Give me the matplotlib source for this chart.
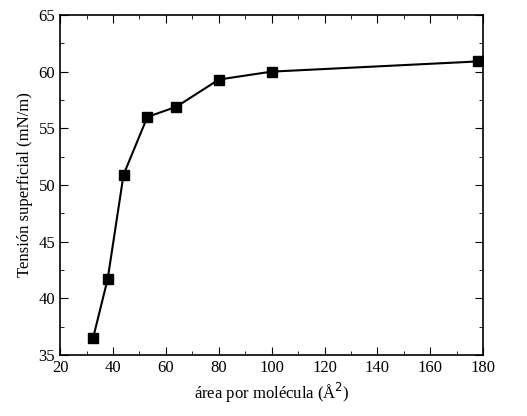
import matplotlib.pyplot as plt
from matplotlib.ticker import MultipleLocator

area = [32.5, 38, 44, 53, 64, 80, 100, 178]
tension = [36.5, 41.7, 50.9, 56.0, 56.9, 59.3, 60.0, 60.9]

plt.rcParams["font.family"] = ["Liberation Serif", "DejaVu Serif"]
fig = plt.figure(figsize=(5.27, 4.16), dpi=100)
ax = fig.add_axes([0.114, 0.147, 0.803, 0.817])
ax.plot(area, tension, color="black", linewidth=1.5, marker="s", markersize=7)
ax.set_xlim(20, 180)
ax.set_ylim(35, 65)
ax.xaxis.set_major_locator(MultipleLocator(20))
ax.xaxis.set_minor_locator(MultipleLocator(10))
ax.yaxis.set_major_locator(MultipleLocator(5))
ax.yaxis.set_minor_locator(MultipleLocator(2.5))
ax.tick_params(which="both", direction="in", top=True, right=True, labelsize=12)
ax.tick_params(which="major", length=6)
ax.tick_params(which="minor", length=3)
ax.set_xlabel("área por molécula (Å$^2$)", fontsize=12)
ax.set_ylabel("Tensión superficial (mN/m)", fontsize=12)
for s in ax.spines.values():
    s.set_linewidth(1.2)
fig.savefig("out.png", dpi=100)
